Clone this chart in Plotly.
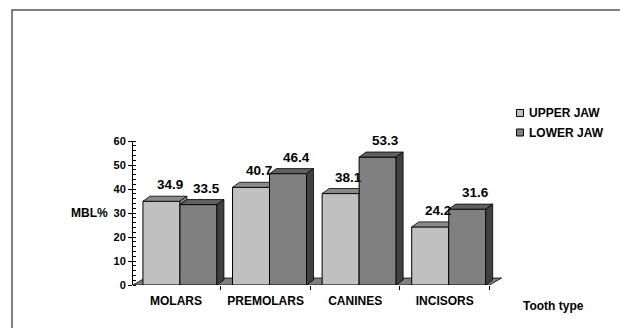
import plotly.graph_objects as go

categories = ["MOLARS", "PREMOLARS", "CANINES", "INCISORS"]
upper_jaw = [34.9, 40.7, 38.1, 24.2]
lower_jaw = [33.5, 46.4, 53.3, 31.6]
series_names = ["UPPER JAW", "LOWER JAW"]
y_ticks = [0, 10, 20, 30, 40, 50, 60]

FONT = "Liberation Sans, Arial, sans-serif"
C_UP, C_LO = "#c0c0c0", "#808080"
C_UP_TOP, C_LO_TOP = "#8a8a8a", "#606060"
C_UP_SIDE, C_LO_SIDE = "#8a8a8a", "#404040"

# plot area in pixels
L, R, T, B = 133, 503, 141, 285
W, H = R - L, B - T
XR = [-0.48, 3.65]
YR = [0, 60]
def px2x(px): return (px - L) / W
def py2y(py): return (B - py) / H

BW = 0.413          # bar width (category units)
OFF_UP, OFF_LO = -0.369, 0.044
DX, DY = 0.078, 2.1   # bar depth
FDX, FDY = 0.134, 2.9  # floor depth

xs = list(range(len(categories)))

fig = go.Figure()
fig.add_trace(go.Bar(x=xs, y=upper_jaw, width=BW, offset=OFF_UP, name=series_names[0],
                     marker=dict(color=C_UP, line=dict(color="black", width=1)),
                     showlegend=False, hoverinfo="y"))
fig.add_trace(go.Bar(x=xs, y=lower_jaw, width=BW, offset=OFF_LO, name=series_names[1],
                     marker=dict(color=C_LO, line=dict(color="black", width=1)),
                     showlegend=False, hoverinfo="y"))

def poly(pts):
    return "M " + " L ".join(f"{x},{y}" for x, y in pts) + " Z"

shapes = []
# floor
shapes.append(dict(type="path", xref="x", yref="y", layer="below",
                   path=poly([(XR[0], 0), (len(categories) - 0.5, 0),
                              (len(categories) - 0.5 + FDX, FDY), (XR[0] + FDX, FDY)]),
                   fillcolor="#808080", line=dict(color="black", width=0.8)))
for i in xs:
    U, Lo = upper_jaw[i], lower_jaw[i]
    xl, xr = i + OFF_UP, i + OFF_UP + BW
    if Lo > U:
        top = [(xl, U), (xr, U), (xr, U + DY), (xl + DX, U + DY)]
    else:
        top = [(xl, U), (xr, U), (xr + DX, U + DY), (xl + DX, U + DY)]
    shapes.append(dict(type="path", xref="x", yref="y", path=poly(top),
                       fillcolor=C_UP_TOP, line=dict(color="black", width=0.8)))
    if U > Lo:
        side = [(xr, Lo), (xr, U), (xr + DX, U + DY), (xr + DX, Lo + DY)]
        shapes.append(dict(type="path", xref="x", yref="y", path=poly(side),
                           fillcolor=C_UP_SIDE, line=dict(color="black", width=0.8)))
    xl2, xr2 = i + OFF_LO, i + OFF_LO + BW
    shapes.append(dict(type="path", xref="x", yref="y",
                       path=poly([(xl2, Lo), (xr2, Lo), (xr2 + DX, Lo + DY), (xl2 + DX, Lo + DY)]),
                       fillcolor=C_LO_TOP, line=dict(color="black", width=0.8)))
    shapes.append(dict(type="path", xref="x", yref="y",
                       path=poly([(xr2, 0), (xr2, Lo), (xr2 + DX, Lo + DY), (xr2 + DX, DY)]),
                       fillcolor=C_LO_SIDE, line=dict(color="black", width=0.8)))

# outer frame
shapes.append(dict(type="rect", xref="paper", yref="paper",
                   x0=px2x(12), y0=py2y(10), x1=px2x(700), y1=py2y(400),
                   line=dict(color="#555555", width=1.5), fillcolor="rgba(0,0,0,0)"))

# manual legend
for k, (nm, col) in enumerate(zip(series_names, [C_UP, C_LO])):
    cy = 113 + k * 19.5
    shapes.append(dict(type="rect", xref="paper", yref="paper",
                       x0=px2x(516.5), x1=px2x(523.5), y0=py2y(cy - 3.5), y1=py2y(cy + 3.5),
                       fillcolor=col, line=dict(color="black", width=1)))

annotations = []
for k, nm in enumerate(series_names):
    cy = 113 + k * 19.5
    annotations.append(dict(xref="paper", yref="paper", x=px2x(527), y=py2y(cy),
                            xanchor="left", yanchor="middle", text=nm, showarrow=False,
                            font=dict(family=FONT, size=12, color="black", weight="bold")))

# value labels
for vals, off in [(upper_jaw, OFF_UP), (lower_jaw, OFF_LO)]:
    for i, v in zip(xs, vals):
        annotations.append(dict(xref="x", yref="y", x=i + off + BW / 2 + 0.09, y=v + DY,
                                xanchor="center", yanchor="bottom", yshift=2,
                                text=f"{v:.1f}", showarrow=False,
                                font=dict(family=FONT, size=13.5, color="black", weight="bold")))

annotations.append(dict(xref="paper", yref="paper", x=px2x(89), y=py2y(213),
                        xanchor="center", yanchor="middle", text="MBL%", showarrow=False,
                        font=dict(family=FONT, size=12, color="black", weight="bold")))
annotations.append(dict(xref="paper", yref="paper", x=px2x(553), y=py2y(306),
                        xanchor="center", yanchor="middle", text="Tooth type", showarrow=False,
                        font=dict(family=FONT, size=12, color="black", weight="bold")))

fig.update_layout(
    width=620, height=328,
    margin=dict(l=L, r=620 - R, t=T, b=328 - B, pad=0),
    paper_bgcolor="white", plot_bgcolor="white",
    barmode="overlay",
    shapes=shapes, annotations=annotations,
    showlegend=False,
    xaxis=dict(range=XR, tickmode="array", tickvals=xs, ticktext=categories,
               ticks="", showgrid=False, zeroline=False, showline=False,
               ticklabelstandoff=7,
               tickfont=dict(family=FONT, size=12, color="black", weight="bold"),
               minor=dict(ticks="outside", ticklen=4, tick0=0.5, dtick=1,
                          tickcolor="black", tickwidth=1, showgrid=False)),
    yaxis=dict(range=YR, tickmode="array", tickvals=y_ticks, ticks="outside", ticklen=4,
               tickcolor="black", showgrid=False, zeroline=False, showline=True,
               linecolor="black", linewidth=1,
               tickfont=dict(family=FONT, size=11, color="black", weight="bold"),
               minor=dict(ticks="inside", ticklen=3, tick0=0, dtick=2,
                          tickcolor="black", tickwidth=1, showgrid=False)),
)

fig.write_html("out.html")
